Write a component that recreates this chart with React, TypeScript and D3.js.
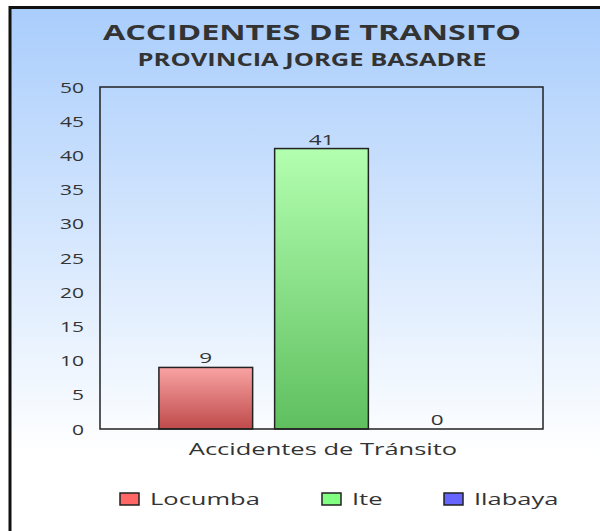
import { useEffect, useRef } from 'react';
import * as d3 from 'd3';

const categories = ['Locumba', 'Ite', 'Ilabaya'];
const values = [9, 41, 0];
const legendColors = ['#ff6666', '#80ff80', '#6666ff'];
const barTop = ['#f9a3a3', '#b3ffb0', '#a8a8ff'];
const barBottom = ['#bf4a4a', '#5fbf5f', '#4a4abf'];
const yTicks = [0, 5, 10, 15, 20, 25, 30, 35, 40, 45, 50];
const groupLabel = 'Accidentes de Tránsito';

// the reference is drawn wide: every text is stretched sideways
const SX = 1.5;

const App = () => {
  const ref = useRef<SVGSVGElement>(null);

  useEffect(() => {
    const svg = d3.select(ref.current);
    svg.selectAll('*').remove();

    const plot = { left: 100, right: 543, top: 87, bottom: 429 };
    const font = "'Open Sans', sans-serif";

    const label = (g: any, x: number, y: number, txt: string | number, size: number, anchor = 'start', bold = false) =>
      g.append('text')
        .attr('transform', `translate(${x},${y}) scale(${SX},1)`)
        .attr('text-anchor', anchor)
        .style('font-family', font)
        .style('font-size', `${size}px`)
        .style('font-weight', bold ? 'bold' : 'normal')
        .attr('fill', '#333')
        .text(txt);

    const defs = svg.append('defs');
    const bg = defs.append('linearGradient')
      .attr('id', 'bg').attr('x1', 0).attr('y1', 0).attr('x2', 0).attr('y2', 1);
    bg.append('stop').attr('offset', '0%').attr('stop-color', '#a9cdfc');
    bg.append('stop').attr('offset', '80%').attr('stop-color', '#ffffff');
    bg.append('stop').attr('offset', '100%').attr('stop-color', '#ffffff');

    categories.forEach((c, i) => {
      const g = defs.append('linearGradient')
        .attr('id', `bar${i}`).attr('x1', 0).attr('y1', 0).attr('x2', 0).attr('y2', 1);
      g.append('stop').attr('offset', '0%').attr('stop-color', barTop[i]);
      g.append('stop').attr('offset', '100%').attr('stop-color', barBottom[i]);
    });

    // background + outer frame
    svg.append('rect')
      .attr('x', 10).attr('y', 7.5)
      .attr('width', 620).attr('height', 560)
      .attr('fill', 'url(#bg)')
      .attr('stroke', '#111')
      .attr('stroke-width', 3);

    label(svg, 312, 40, 'ACCIDENTES DE TRANSITO', 21.6, 'middle', true);
    label(svg, 312, 66, 'PROVINCIA JORGE BASADRE', 17, 'middle', true);

    const y = d3.scaleLinear().domain([0, 50]).range([plot.bottom, plot.top]);
    const x0 = d3.scaleBand().domain([groupLabel]).range([plot.left, plot.right]).paddingInner(0).paddingOuter(0.1);
    const x1 = d3.scaleBand().domain(categories).range([0, x0.bandwidth()]).padding(0.19);

    const ticks = svg.append('g');
    yTicks.forEach(t => label(ticks, 84, y(t) + 5.5, t, 14, 'end'));

    const bars = svg.append('g');
    categories.forEach((c, i) => {
      const bx = (x0(groupLabel) ?? 0) + (x1(c) ?? 0);
      if (values[i] > 0) {
        bars.append('rect')
          .attr('x', bx).attr('y', y(values[i]))
          .attr('width', x1.bandwidth())
          .attr('height', y(0) - y(values[i]))
          .attr('fill', `url(#bar${i})`)
          .attr('stroke', '#222').attr('stroke-width', 1.5);
      }
      label(bars, bx + x1.bandwidth() / 2, y(values[i]) - 4, values[i], 15, 'middle');
    });

    // plot border
    svg.append('rect')
      .attr('x', plot.left).attr('y', plot.top)
      .attr('width', plot.right - plot.left).attr('height', plot.bottom - plot.top)
      .attr('fill', 'none').attr('stroke', '#222').attr('stroke-width', 1.5);

    label(svg, 323, 455, groupLabel, 17, 'middle');

    const legendX = [120, 322, 444];
    const leg = svg.append('g');
    categories.forEach((c, i) => {
      leg.append('rect')
        .attr('x', legendX[i]).attr('y', 493)
        .attr('width', 19).attr('height', 12)
        .attr('fill', legendColors[i])
        .attr('stroke', '#222').attr('stroke-width', 1.5);
      label(leg, legendX[i] + 30, 505, c, 17);
    });
  }, []);

  return (
    <svg
      ref={ref}
      width={600}
      height={531}
      style={{ position: 'absolute', left: 0, top: 0, overflow: 'hidden' }}
    />
  );
};

export default App;
